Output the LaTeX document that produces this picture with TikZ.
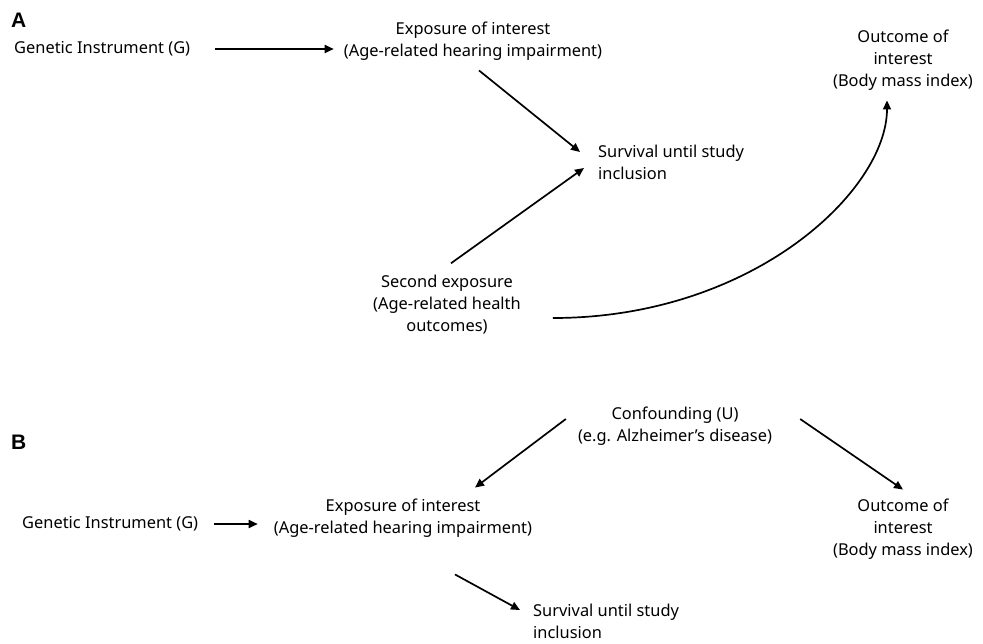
\documentclass[tikz,border=0pt]{standalone}
\usepackage{fontspec}
\setmainfont{Noto Sans}
\newfontfamily\panelfont{Liberation Sans}
\usetikzlibrary{arrows.meta,calc}
\begin{document}
\begin{tikzpicture}[x=1pt,y=-1pt,
  lbl/.style={inner sep=0pt,align=center,font=\fontsize{16.4}{22}\selectfont},
  lbll/.style={inner sep=0pt,align=left,font=\fontsize{16.4}{22}\selectfont},
  panel/.style={inner sep=0pt,font=\panelfont\fontsize{21}{22}\selectfont\bfseries},
  arr/.style={line width=1.7pt,-{Triangle[length=9pt,width=8pt]}}]
\useasboundingbox (0,0) rectangle (983,643);
% Panel A
\node[panel,anchor=west] (pa) at (11,20) {A};
\node[lbll,anchor=west] (g1) at (14,49) {Genetic Instrument (G)};
\node[lbl] (e1) at (473,41) {Exposure of interest\\(Age-related hearing impairment)};
\node[lbll,anchor=west] (s1) at (598,162) {Survival until study\\inclusion};
\node[lbl] (x2) at (447,305) {Second exposure\\(Age-related health\\outcomes)};
\node[lbl] (o1) at (903,60) {Outcome of\\interest\\(Body mass index)};
\draw[arr] ([xshift=25pt]g1.east) -- ([xshift=-10pt]g1.east -| e1.west);
\draw[arr] ([shift={(6,10)}]e1.south) -- ([shift={(-18,-10)}]s1.west);
\draw[arr] ([shift={(4,-12)}]x2.north) -- ([shift={(-14,6)}]s1.west);
\draw[arr] ([shift={(32,13)}]x2.east) .. controls +(200,0) and +(0,90) .. ([shift={(-16,10)}]o1.south);
% Panel B
\node[panel,anchor=west] (pb) at (11,442) {B};
\node[lbll,anchor=west] (g2) at (22,524) {Genetic Instrument (G)};
\node[lbl] (e2) at (403,518) {Exposure of interest\\(Age-related hearing impairment)};
\node[lbl] (c) at (675,426) {Confounding (U)\\(e.g. Alzheimer’s disease)};
\node[lbl] (o2) at (903,529) {Outcome of\\interest\\(Body mass index)};
\node[lbll,anchor=west] (s2) at (533,621) {Survival until study\\inclusion};
\draw[arr] ([xshift=16pt]g2.east) -- ([xshift=-16pt]g2.east -| e2.west);
\draw[arr] ([shift={(-12,-7)}]c.west) -- ([shift={(72,-11)}]e2.north);
\draw[arr] ([shift={(28,-7)}]c.east) -- ([shift={(0,-9)}]o2.north);
\draw[arr] ([shift={(52,37)}]e2.south) -- ([shift={(-13,-11)}]s2.west);
\end{tikzpicture}
\end{document}
